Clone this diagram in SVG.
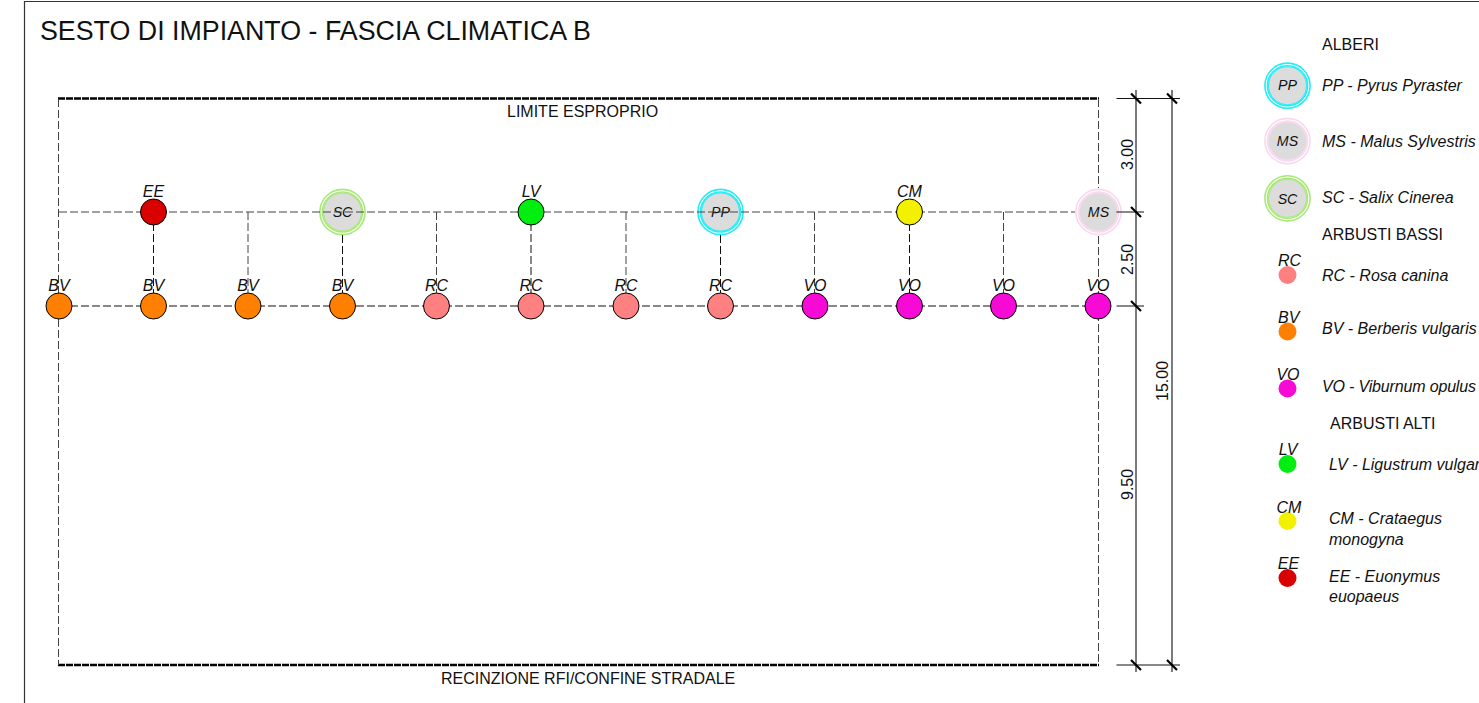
<svg xmlns="http://www.w3.org/2000/svg" width="1479" height="703" viewBox="0 0 1479 703">
<style>
text{font-family:"Liberation Sans",Arial,sans-serif;fill:#111}
.t{font-size:16px}
.h{font-size:26.8px}
.i{font-size:16px;font-style:italic}
.l{font-size:16px;font-style:italic;text-anchor:middle}
.s{font-size:14.2px;font-style:italic;text-anchor:middle}
.b{stroke:#000;stroke-width:1}
.rc{fill:#ff8080}.bv{fill:#ff8000}.vo{fill:#f70ad5}.lv{fill:#00ee10}.cm{fill:#f3f000}.ee{fill:#d90000}
.d1{stroke:#444;stroke-width:1;stroke-dasharray:8 3;fill:none}
.d2{stroke:#111;stroke-width:1;stroke-dasharray:8 3;fill:none}
.lim{stroke:#000;stroke-width:2.6;stroke-dasharray:7 1;fill:none}
.dim{stroke:#444;stroke-width:1.4;fill:none}
.ext{stroke:#111;stroke-width:1;fill:none}
.tick{stroke:#000;stroke-width:2.2;fill:none}
.core{fill:#dcdcdc}
.ring{fill:none;stroke-width:1.6}
</style>
<defs>
<g id="tree"><circle class="core" r="19"/><circle class="ring" r="20"/><circle class="ring" r="22.600"/></g>
</defs>
<g id="frame"><path d="M24.500 703V1.500H1479" fill="none" stroke="#333" stroke-width="1.200"/></g>
<text class="h" x="40" y="40">SESTO DI IMPIANTO - FASCIA CLIMATICA B</text>
<g id="node-sc-top"><use href="#tree" x="342.500" y="212" stroke="#a8e878"/><text class="s" x="342.500" y="217">SC</text></g>
<g id="node-pp-top"><use href="#tree" x="720.500" y="212" stroke="#22eef5"/><text class="s" x="720.500" y="217">PP</text></g>
<g id="node-ms-top"><use href="#tree" x="1098.500" y="212" stroke="#f8d8ee"/><text class="s" x="1098.500" y="217">MS</text></g>
<g id="connectors">
<path class="lim" d="M58 98.500H1099M58 665H1099"/>
<path class="d1" d="M58.500 99V665M1098.500 99V188M1098.500 236V665M59 212H1075M248 212V306M436.500 212V306M626 212V306M814.500 212V306M1003.500 212V306"/>
<path class="d2" d="M59 306H1098M153.500 212V306M342.500 235V306M531 212V306M720.500 235V306M909.500 212V306"/>
</g>
<g id="dimensions">
<path class="dim" d="M1136 90V672M1172 90V672"/>
<path class="ext" d="M1116.500 98.500H1180M1116.500 212H1144M1116.500 306H1144M1116.500 665H1180"/>
<path class="tick" d="M1131 93.500L1141 103.500M1167 93.500L1177 103.500M1131 207L1141 217M1131 301L1141 311M1131 660L1141 670M1167 660L1177 670"/>
<text class="t" transform="translate(1132.500 170) rotate(-90)">3.00</text>
<text class="t" transform="translate(1132.500 275) rotate(-90)">2.50</text>
<text class="t" transform="translate(1132.500 500) rotate(-90)">9.50</text>
<text class="t" transform="translate(1168 401) rotate(-90)">15.00</text>
</g>
<text class="t" x="507" y="117">LIMITE ESPROPRIO</text>
<text class="t" x="441" y="684">RECINZIONE RFI/CONFINE STRADALE</text>
<g id="node-ee-top"><circle class="b ee" cx="153.500" cy="212" r="13"/><text class="l" x="153.500" y="197">EE</text></g>
<g id="node-lv-top"><circle class="b lv" cx="531" cy="212" r="13"/><text class="l" x="531" y="197">LV</text></g>
<g id="node-cm-top"><circle class="b cm" cx="909.500" cy="212" r="13"/><text class="l" x="909.500" y="197">CM</text></g>
<g id="node-bv1"><circle class="b bv" cx="59" cy="306" r="13"/><text class="l" x="59" y="291">BV</text></g>
<g id="node-bv2"><circle class="b bv" cx="153.500" cy="306" r="13"/><text class="l" x="153.500" y="291">BV</text></g>
<g id="node-bv3"><circle class="b bv" cx="248" cy="306" r="13"/><text class="l" x="248" y="291">BV</text></g>
<g id="node-bv4"><circle class="b bv" cx="342.500" cy="306" r="13"/><text class="l" x="342.500" y="291">BV</text></g>
<g id="node-rc1"><circle class="b rc" cx="436.500" cy="306" r="13"/><text class="l" x="436.500" y="291">RC</text></g>
<g id="node-rc2"><circle class="b rc" cx="531" cy="306" r="13"/><text class="l" x="531" y="291">RC</text></g>
<g id="node-rc3"><circle class="b rc" cx="626" cy="306" r="13"/><text class="l" x="626" y="291">RC</text></g>
<g id="node-rc4"><circle class="b rc" cx="720.500" cy="306" r="13"/><text class="l" x="720.500" y="291">RC</text></g>
<g id="node-vo1"><circle class="b vo" cx="815" cy="306" r="13"/><text class="l" x="815" y="291">VO</text></g>
<g id="node-vo2"><circle class="b vo" cx="909.500" cy="306" r="13"/><text class="l" x="909.500" y="291">VO</text></g>
<g id="node-vo3"><circle class="b vo" cx="1003.500" cy="306" r="13"/><text class="l" x="1003.500" y="291">VO</text></g>
<g id="node-vo4"><circle class="b vo" cx="1098" cy="306" r="13"/><text class="l" x="1098" y="291">VO</text></g>
<g id="legend">
<text class="t" x="1322" y="50">ALBERI</text>
<g id="leg-pp"><use href="#tree" x="1287.500" y="85.700" stroke="#22eef5"/><text class="s" x="1287.500" y="90">PP</text><text class="i" x="1322" y="91">PP - Pyrus Pyraster</text></g>
<g id="leg-ms"><use href="#tree" x="1287.500" y="141" stroke="#f8d8ee"/><text class="s" x="1287.500" y="146">MS</text><text class="i" x="1322" y="147">MS - Malus Sylvestris</text></g>
<g id="leg-sc"><use href="#tree" x="1287.500" y="198.300" stroke="#a8e878"/><text class="s" x="1287.500" y="204">SC</text><text class="i" x="1322" y="203">SC - Salix Cinerea</text></g>
<text class="t" x="1322" y="240">ARBUSTI BASSI</text>
<g id="leg-rc"><circle class="rc" cx="1287.500" cy="275" r="9"/><text class="l" x="1289.500" y="266">RC</text><text class="i" x="1322" y="281">RC - Rosa canina</text></g>
<g id="leg-bv"><circle class="bv" cx="1287.500" cy="331.500" r="9"/><text class="l" x="1288.700" y="323">BV</text><text class="i" x="1322" y="334">BV - Berberis vulgaris</text></g>
<g id="leg-vo"><circle class="vo" cx="1287.500" cy="388.500" r="9"/><text class="l" x="1288" y="380">VO</text><text class="i" x="1322" y="392" textLength="154">VO - Viburnum opulus</text></g>
<text class="t" x="1330" y="429">ARBUSTI ALTI</text>
<g id="leg-lv"><circle class="lv" cx="1287.500" cy="464" r="9"/><text class="l" x="1288" y="455">LV</text><text class="i" x="1329" y="470">LV - Ligustrum vulgar</text></g>
<g id="leg-cm"><circle class="cm" cx="1287.500" cy="521" r="9"/><text class="l" x="1289" y="513">CM</text><text class="i" x="1329" y="524">CM - Crataegus</text><text class="i" x="1329" y="545">monogyna</text></g>
<g id="leg-ee"><circle class="ee" cx="1287.500" cy="578" r="9"/><text class="l" x="1288.500" y="569">EE</text><text class="i" x="1329" y="582">EE - Euonymus</text><text class="i" x="1329" y="602">euopaeus</text></g>
</g>
</svg>
